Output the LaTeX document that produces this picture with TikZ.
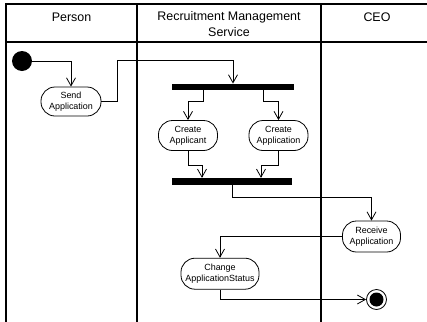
\documentclass[tikz,border=0pt]{standalone}
\usepackage{fontspec}
\setmainfont{Liberation Sans}
\usetikzlibrary{arrows.meta}
\begin{document}
\begin{tikzpicture}[x=1bp,y=-1bp,
 lane/.style={line width=1.1bp},
 act/.style={draw, line width=0.8bp, rounded corners=14bp, minimum width=59bp, minimum height=30bp, inner sep=0pt, align=center, font=\fontsize{9}{11}\selectfont},
 flow/.style={line width=0.8bp, -{Straight Barb[length=8bp,width=9bp,line width=0.8bp]}},
 bar/.style={fill=black, draw=none, minimum width=122bp, minimum height=6.5bp, inner sep=0pt},
 hdr/.style={font=\fontsize{12.5}{16}\selectfont, align=center, inner sep=0pt}
]
\useasboundingbox (0,0) rectangle (427,322);
% swimlanes
\draw[lane] (6,322) -- (6,4) -- (427,4);
\draw[lane] (6,42) -- (427,42);
\draw[lane] (137,4) -- (137,322);
\draw[lane] (321,4) -- (321,322);
\node[hdr] (hperson) at (71.5,17.5) {Person};
\node[hdr] (hrms) at (229,24.5) {Recruitment Management\\Service};
\node[hdr] (hceo) at (377,17.5) {CEO};
% nodes
\node[circle, fill=black, minimum size=20bp, inner sep=0pt] (init) at (22,61) {};
\node[act, minimum width=60bp, minimum height=29bp] (send) at (71,101.5) {Send\\Application};
\node[bar] (fork) at (233,87) {};
\node[act] (ca1) at (188,135.5) {Create\\Applicant};
\node[act] (ca2) at (278.5,135.5) {Create\\Application};
\node[bar, minimum width=120bp] (join) at (232,181.3) {};
\node[act, minimum width=58bp, minimum height=31bp] (recv) at (371.5,236.5) {Receive\\Application};
\node[act, minimum width=78bp, minimum height=31bp] (chg) at (220,273.7) {Change\\ApplicationStatus};
\node[circle, draw, line width=0.8bp, minimum size=20bp, inner sep=0pt] (fin) at (376.5,299.5) {};
\node[circle, fill=black, minimum size=14bp, inner sep=0pt] (finc) at (fin) {};
% flows
\draw[flow] (init.east) -| (send.north);
\draw[flow] (send.east) -| (117,60) -| (fork.north);
\draw[flow] ([xshift=-30bp]fork.south) -- ++(0,11) -| (ca1.north);
\draw[flow] ([xshift=30bp]fork.south) -- ++(0,11) -| (ca2.north);
\draw[flow] (ca1.south) -- ++(0,14) -| ([xshift=-30bp]join.north);
\draw[flow] (ca2.south) -- ++(0,14) -| ([xshift=29bp]join.north);
\draw[flow] (join.south) -- ++(0,13) -| (recv.north);
\draw[flow] (recv.west) -| (chg.north);
\draw[flow] (chg.south) |- (fin.west);
\end{tikzpicture}
\end{document}
